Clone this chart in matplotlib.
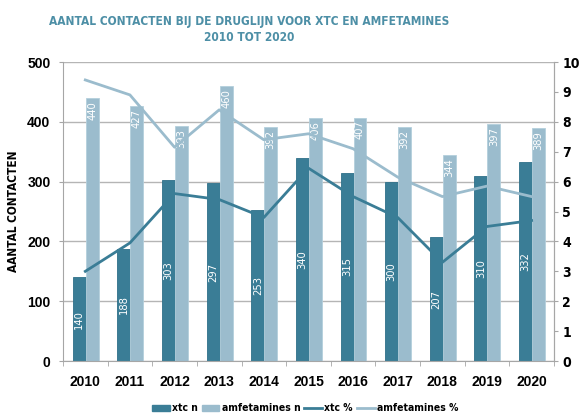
import matplotlib
matplotlib.use('Agg')
import matplotlib.pyplot as plt
import numpy as np
from matplotlib.patches import Patch
from matplotlib.lines import Line2D

# Data
years = ['2010', '2011', '2012', '2013', '2014', '2015', '2016', '2017', '2018', '2019', '2020']
xtc_n = [140, 188, 303, 297, 253, 340, 315, 300, 207, 310, 332]
amf_n = [440, 427, 393, 460, 392, 406, 407, 392, 344, 397, 389]
xtc_pct = [3.0, 3.95, 5.6, 5.4, 4.8, 6.45, 5.5, 4.8, 3.3, 4.5, 4.7]
amf_pct = [9.4, 8.9, 7.15, 8.4, 7.4, 7.6, 7.1, 6.15, 5.5, 5.85, 5.5]

DARK = '#3a7d96'
LIGHT = '#9bbccd'
TITLE_C = '#4d8fa6'
GRID_C = '#b5b5b5'
NARROW = ['DejaVu Sans']
SANS = ['Liberation Sans', 'DejaVu Sans']
COND = dict(family=NARROW, fontweight='bold', fontstretch='condensed')

fig = plt.figure(figsize=(5.81, 4.15), dpi=100)
ax = fig.add_axes([0.1084, 0.130, 0.845, 0.7206])

x = np.arange(len(years))
w = 0.29
b1 = ax.bar(x - w / 2 + 0.01, xtc_n, w, color=DARK, edgecolor='#2f7089', linewidth=0.6, zorder=2)
b2 = ax.bar(x + w / 2 + 0.01, amf_n, w, color=LIGHT, edgecolor='#b4cfdc', linewidth=0.6, zorder=2)

# value labels: xtc centred in the bar, amfetamines at the top inside the bar
for rect, v in zip(b1, xtc_n):
    ax.text(rect.get_x() + rect.get_width() / 2, v / 2, str(v), rotation=90,
            ha='center', va='center', color='white', fontsize=7.2, zorder=3)
for rect, v in zip(b2, amf_n):
    ax.text(rect.get_x() + rect.get_width() / 2, v - 5, str(v), rotation=90,
            ha='center', va='top', color='white', fontsize=7.2, zorder=3)

ax.set_xlim(-0.5, len(years) - 0.5)
ax.set_ylim(0, 500)
ax.set_yticks(range(0, 501, 100))
ax.yaxis.grid(True, color=GRID_C, linewidth=1)
ax.set_axisbelow(True)

ax.set_xticks(x)
ax.set_xticklabels(years)
ax.set_xticks(np.arange(-0.5, len(years), 1), minor=True)
ax.tick_params(axis='x', which='major', length=0, pad=10)
ax.tick_params(axis='x', which='minor', length=3.5, color='#a6a6a6')
ax.tick_params(axis='y', length=3, color='#a6a6a6', pad=6)
for lab in ax.get_xticklabels():
    lab.set_fontfamily(SANS)
    lab.set_fontweight('bold')
    lab.set_fontsize(10)
for lab in ax.get_yticklabels():
    lab.set_fontfamily(SANS)
    lab.set_fontweight('bold')
    lab.set_fontsize(10)

for s in ['left', 'bottom', 'right']:
    ax.spines[s].set_color('#a6a6a6')
ax.spines['top'].set_visible(False)

ax.set_ylabel('AANTAL CONTACTEN', fontsize=8.5, labelpad=5, **COND)

ax2 = ax.twinx()
ax2.plot(x, xtc_pct, color=DARK, linewidth=2, zorder=4)
ax2.plot(x, amf_pct, color=LIGHT, linewidth=2, zorder=4)
ax2.set_ylim(0, 10)
ax2.set_yticks(range(0, 11))
ax2.tick_params(axis='y', length=3, color='#a6a6a6', pad=3)
for lab in ax2.get_yticklabels():
    lab.set_fontfamily(NARROW)
    lab.set_fontweight('bold')
    lab.set_fontstretch('condensed')
    lab.set_fontsize(10)
ax2.spines['right'].set_color('#a6a6a6')
for s in ['top', 'left', 'bottom']:
    ax2.spines[s].set_visible(False)

fig.text(0.429, 0.928, 'AANTAL CONTACTEN BIJ DE DRUGLIJN VOOR XTC EN AMFETAMINES\n2010 TOT 2020',
         ha='center', va='center', color=TITLE_C, fontsize=8.6, linespacing=1.3, **COND)

handles = [Patch(color=DARK), Patch(color=LIGHT),
           Line2D([0], [0], color=DARK, lw=2), Line2D([0], [0], color=LIGHT, lw=2)]
labels = ['xtc n', 'amfetamines n', 'xtc %', 'amfetamines %']
fig.legend(handles, labels, loc='center', bbox_to_anchor=(0.525, 0.016), ncol=4,
           frameon=False, handlelength=1.7, handleheight=0.5, handletextpad=0.2,
           columnspacing=0.4,
           prop={'family': NARROW, 'weight': 'bold', 'size': 7.5, 'stretch': 'condensed'})

fig.savefig('out.png', dpi=100)
